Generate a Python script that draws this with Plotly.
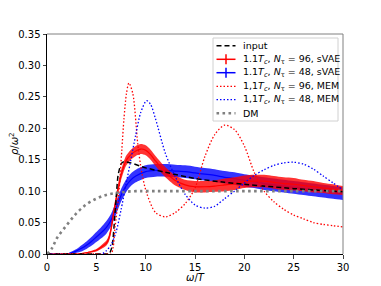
import plotly.graph_objects as go

# ---- data ----
x_input = [0, 6, 6.3, 6.6, 6.9, 7.2, 7.5, 7.8, 8.5, 10, 12, 15, 18, 20, 25, 30]
y_input = [0, 0, 0, 0.012, 0.065, 0.125, 0.143, 0.147, 0.145, 0.137, 0.13, 0.12, 0.114, 0.111, 0.104, 0.099]

x_svae96 = [0, 3, 4, 5, 5.5, 6, 6.25, 6.5, 6.75, 7, 7.25, 7.5, 8, 8.5, 9, 9.5, 10, 10.5, 11, 12, 12.5, 13, 14, 15, 16, 17, 18, 19, 20, 21, 22, 23, 24, 25, 26, 27, 28, 29, 30]
y_svae96 = [0, 0, 0.002, 0.006, 0.011, 0.017, 0.024, 0.04, 0.065, 0.087, 0.107, 0.125, 0.148, 0.158, 0.164, 0.167, 0.165, 0.158, 0.148, 0.13, 0.123, 0.117, 0.11, 0.107, 0.107, 0.108, 0.11, 0.112, 0.115, 0.116, 0.116, 0.114, 0.112, 0.111, 0.109, 0.107, 0.105, 0.103, 0.101]
e_svae96 = [0, 0, 0.001, 0.002, 0.003, 0.004, 0.005, 0.006, 0.007, 0.007, 0.008, 0.008, 0.008, 0.008, 0.008, 0.008, 0.008, 0.008, 0.008, 0.008, 0.008, 0.008, 0.008, 0.009, 0.009, 0.009, 0.01, 0.01, 0.01, 0.01, 0.01, 0.01, 0.01, 0.01, 0.009, 0.009, 0.008, 0.008, 0.007]

x_svae48 = [0, 2, 2.5, 3, 3.5, 4, 4.5, 5, 5.5, 6, 6.5, 7, 7.5, 8, 8.5, 9, 10, 11, 12, 13, 14, 15, 16, 17, 18, 19, 20, 21, 22, 23, 24, 25, 26, 27, 28, 29, 30]
y_svae48 = [0, 0, 0.002, 0.005, 0.009, 0.014, 0.02, 0.027, 0.034, 0.042, 0.054, 0.073, 0.093, 0.108, 0.118, 0.124, 0.131, 0.133, 0.133, 0.132, 0.131, 0.129, 0.127, 0.125, 0.122, 0.12, 0.117, 0.115, 0.112, 0.11, 0.108, 0.106, 0.104, 0.102, 0.1, 0.098, 0.096]
e_svae48 = [0, 0, 0.002, 0.003, 0.005, 0.006, 0.007, 0.008, 0.009, 0.01, 0.01, 0.01, 0.01, 0.01, 0.01, 0.01, 0.01, 0.01, 0.01, 0.01, 0.01, 0.01, 0.01, 0.01, 0.01, 0.01, 0.01, 0.01, 0.01, 0.01, 0.01, 0.01, 0.01, 0.01, 0.01, 0.01, 0.01]

x_mem96 = [0, 6, 6.5, 6.7, 6.9, 7.25, 7.58, 7.8, 8.05, 8.3, 8.7, 9.2, 9.6, 10.1, 11, 12, 13, 14, 15, 16, 17, 18, 19, 20, 21, 22, 23, 24, 25, 26, 27, 28, 29, 30]
y_mem96 = [0, 0, 0, 0.01, 0.043, 0.091, 0.165, 0.215, 0.255, 0.272, 0.255, 0.175, 0.13, 0.097, 0.066, 0.059, 0.066, 0.08, 0.105, 0.155, 0.19, 0.205, 0.198, 0.172, 0.13, 0.1, 0.083, 0.071, 0.062, 0.056, 0.05, 0.047, 0.045, 0.043]

x_mem48 = [0, 5.5, 6, 6.5, 7, 7.5, 8, 8.5, 9, 9.5, 10.1, 10.5, 11, 12, 13, 14, 15, 16, 17, 18, 19, 20, 21, 22, 23, 24, 25, 26, 27, 28, 29, 30]
y_mem48 = [0, 0, 0.005, 0.015, 0.035, 0.07, 0.11, 0.15, 0.19, 0.225, 0.244, 0.238, 0.215, 0.16, 0.123, 0.095, 0.078, 0.073, 0.076, 0.088, 0.1, 0.113, 0.125, 0.134, 0.141, 0.145, 0.146, 0.143, 0.135, 0.124, 0.113, 0.102]

x_dm = [0, 0.5, 1, 2, 3, 4, 5, 6, 7, 8, 9, 10, 15, 20, 25, 30]
y_dm = [0, 0.009, 0.025, 0.046, 0.065, 0.079, 0.088, 0.094, 0.097, 0.099, 0.1, 0.1, 0.1, 0.1, 0.1, 0.1]

legend_labels = ["input",
                 "1.1<i>T</i><sub><i>c</i></sub>, <i>N</i><sub>τ</sub> = 96, sVAE",
                 "1.1<i>T</i><sub><i>c</i></sub>, <i>N</i><sub>τ</sub> = 48, sVAE",
                 "1,1<i>T</i><sub><i>c</i></sub>, <i>N</i><sub>τ</sub> = 96, MEM",
                 "1,1<i>T</i><sub><i>c</i></sub>, <i>N</i><sub>τ</sub> = 48, MEM",
                 "DM"]

RED = "#ff0000"
BLUE = "#0000ff"
W, H = 381, 286
ML, MR, MT, MB = 47, 38, 34, 32
PW, PH = W - ML - MR, H - MT - MB

def px2paper(px, py):
    return (px - ML) / PW, (H - MB - py) / PH

fig = go.Figure()

def band(x, y, e, color, fillc):
    lo = [a - b for a, b in zip(y, e)]
    hi = [a + b for a, b in zip(y, e)]
    fig.add_trace(go.Scatter(x=x, y=lo, mode="lines", line=dict(width=0, color=color, shape="spline", smoothing=0.7),
                             showlegend=False, hoverinfo="skip"))
    fig.add_trace(go.Scatter(x=x, y=hi, mode="lines", line=dict(width=0, color=color, shape="spline", smoothing=0.7),
                             fill="tonexty", fillcolor=fillc, showlegend=False, hoverinfo="skip"))
    fig.add_trace(go.Scatter(x=x, y=y, mode="lines", line=dict(width=1.2, color=color, shape="spline", smoothing=0.7),
                             showlegend=False, hoverinfo="skip"))

band(x_svae48, y_svae48, e_svae48, BLUE, "rgba(0,0,255,0.8)")
band(x_svae96, y_svae96, e_svae96, RED, "rgba(255,0,0,0.8)")

DOT = "1.5px,2px"
DMDOT = "2.6px,3.4px"
DASH = "5px,3px"

fig.add_trace(go.Scatter(x=x_input, y=y_input, mode="lines", showlegend=False,
                         line=dict(color="black", width=1.5, dash=DASH, shape="spline", smoothing=0.5)))
fig.add_trace(go.Scatter(x=x_mem96, y=y_mem96, mode="lines", showlegend=False,
                         line=dict(color=RED, width=1.3, dash=DOT, shape="spline", smoothing=0.8)))
fig.add_trace(go.Scatter(x=x_mem48, y=y_mem48, mode="lines", showlegend=False,
                         line=dict(color=BLUE, width=1.3, dash=DOT, shape="spline", smoothing=0.8)))
fig.add_trace(go.Scatter(x=x_dm, y=y_dm, mode="lines", showlegend=False,
                         line=dict(color="gray", width=2.6, dash=DMDOT, shape="spline")))

# ---- custom legend (matplotlib style) ----
shapes = []
annotations = []
bx0, by0 = px2paper(213, 38)
bx1, by1 = px2paper(338, 121)
shapes.append(dict(type="rect", xref="paper", yref="paper", x0=bx0, x1=bx1, y0=by1, y1=by0,
                   line=dict(color="#d0d0d0", width=1), fillcolor="rgba(255,255,255,0.8)", layer="above"))
row_y = [45.7, 59.3, 72.7, 86.3, 99.7, 113.3]
styles = [("black", 1.5, DASH, False), (RED, 1.5, "solid", True), (BLUE, 1.5, "solid", True),
          (RED, 1.3, DOT, False), (BLUE, 1.3, DOT, False), ("gray", 2.6, DMDOT, False)]
for lab, ry, (c, w, d, cross) in zip(legend_labels, row_y, styles):
    lx0, ly = px2paper(216.5, ry)
    lx1, _ = px2paper(235.5, ry)
    shapes.append(dict(type="line", xref="paper", yref="paper", x0=lx0, x1=lx1, y0=ly, y1=ly,
                       line=dict(color=c, width=w, dash=d), layer="above"))
    if cross:
        cx, cy0 = px2paper(226, ry - 5)
        _, cy1 = px2paper(226, ry + 5)
        shapes.append(dict(type="line", xref="paper", yref="paper", x0=cx, x1=cx, y0=cy0, y1=cy1,
                           line=dict(color=c, width=1.5), layer="above"))
    tx, _ = px2paper(241, ry)
    annotations.append(dict(text=lab, xref="paper", yref="paper", x=tx, y=ly, xanchor="left",
                            yanchor="middle", showarrow=False, font=dict(size=9.5, color="black")))

# frame top/right in gray
shapes.append(dict(type="line", xref="paper", yref="paper", x0=0, x1=1, y0=1, y1=1, line=dict(color="gray", width=1)))
shapes.append(dict(type="line", xref="paper", yref="paper", x0=1, x1=1, y0=0, y1=1, line=dict(color="gray", width=1)))

# axis titles
annotations.append(dict(text="<i>ω</i>/<i>T</i>", xref="paper", yref="paper", x=0.5, y=px2paper(0, 277)[1],
                        xanchor="center", yanchor="middle", showarrow=False, font=dict(size=10)))
annotations.append(dict(text="<i>ρ</i>/<i>ω</i><sup>2</sup>", xref="paper", yref="paper",
                        x=px2paper(14, 0)[0], y=px2paper(0, 144)[1], textangle=-90,
                        xanchor="center", yanchor="middle", showarrow=False, font=dict(size=10)))

fig.update_layout(
    width=W, height=H,
    margin=dict(l=ML, r=MR, t=MT, b=MB),
    plot_bgcolor="white", paper_bgcolor="white",
    font=dict(family="DejaVu Sans", size=10, color="black"),
    showlegend=False,
    xaxis=dict(range=[0, 30], tickvals=[0, 5, 10, 15, 20, 25, 30], ticks="outside", ticklen=3.5,
               showgrid=False, zeroline=False, showline=True, linecolor="black", linewidth=1,
               automargin=False),
    yaxis=dict(range=[0, 0.35], tickvals=[0, 0.05, 0.1, 0.15, 0.2, 0.25, 0.3, 0.35],
               ticktext=["0.00", "0.05", "0.10", "0.15", "0.20", "0.25", "0.30", "0.35"],
               ticks="outside", ticklen=3.5, showgrid=False, zeroline=False, showline=True,
               linecolor="black", linewidth=1, automargin=False),
    shapes=shapes,
    annotations=annotations,
)

fig.write_html("out.html", config={"displayModeBar": False},
               post_script="document.body.style.margin='0';document.body.style.padding='0';")
